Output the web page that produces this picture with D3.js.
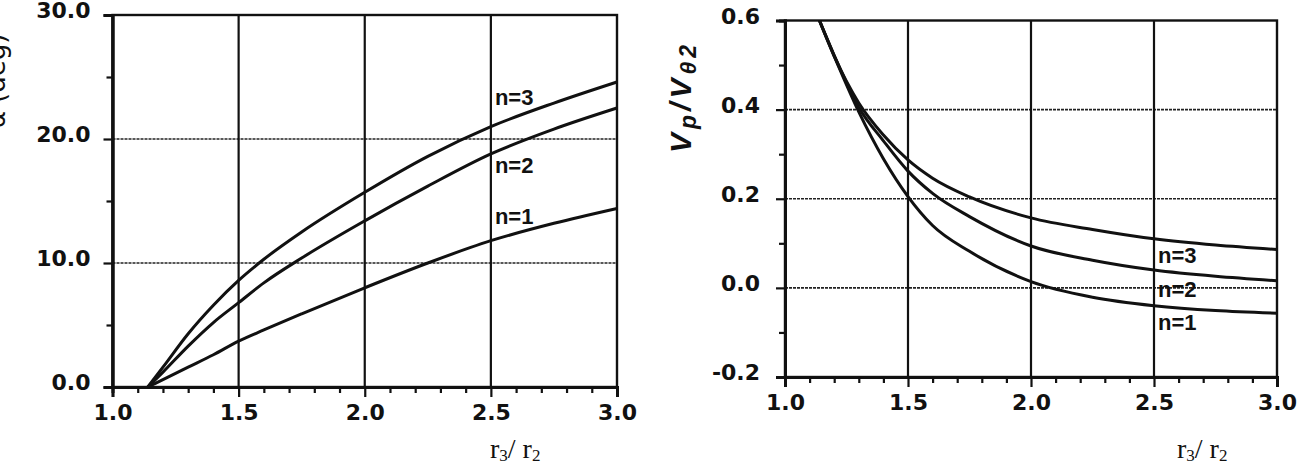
<!DOCTYPE html>
<html>
<head>
<meta charset="utf-8">
<script src="https://cdn.jsdelivr.net/npm/d3@7/dist/d3.min.js"></script>
<style>
body { margin: 0; background: #fff; }
svg { display: block; }
</style>
</head>
<body>
<svg id="chart" width="1300" height="468"></svg>
<script>
// radius ratio r3/r2 at which the curves were read
var ratios = [1.14, 1.2, 1.3, 1.4, 1.5, 1.6, 1.75, 2.0, 2.25, 2.5, 2.75, 3.0];
// left panel: alpha (deg)
var alphaN1 = [0, 0.6, 1.6, 2.6, 3.7, 4.6, 5.9, 8.0, 10.0, 11.8, 13.2, 14.4];
var alphaN2 = [0, 1.2, 3.3, 5.2, 6.8, 8.4, 10.4, 13.4, 16.2, 18.8, 20.8, 22.5];
var alphaN3 = [0, 1.6, 4.3, 6.6, 8.6, 10.3, 12.5, 15.7, 18.6, 21.0, 22.9, 24.6];
// right panel: Vp / Vtheta2
var velN1 = [0.60, 0.52, 0.395, 0.29, 0.205, 0.14, 0.082, 0.014, -0.021, -0.040, -0.051, -0.057];
var velN2 = [0.60, 0.522, 0.405, 0.33, 0.262, 0.212, 0.16, 0.094, 0.062, 0.040, 0.026, 0.016];
var velN3 = [0.60, 0.52, 0.415, 0.343, 0.287, 0.246, 0.204, 0.157, 0.131, 0.110, 0.096, 0.086];
var curveNames = ['n=1', 'n=2', 'n=3'];
var xTicks = [1.0, 1.5, 2.0, 2.5, 3.0];
var xMinorTicks = [1.1, 1.2, 1.3, 1.4, 1.6, 1.7, 1.8, 1.9, 2.1, 2.2, 2.3, 2.4, 2.6, 2.7, 2.8, 2.9];
var alphaTicks = [0, 10, 20, 30];
var alphaMinorTicks = [5, 15, 25];
var velTicks = [-0.2, 0.0, 0.2, 0.4, 0.6];
var velMinorTicks = [-0.1, 0.1, 0.3, 0.5];

var svg = d3.select('#chart');
var fmt = d3.format('.1f');
function tickText(d) {
	// plain hyphen like the original print
	return fmt(d).replace('\u2212', '-');
}

function drawPanel(p) {
	var x = d3.scaleLinear().domain([1, 3]).range([p.left, p.right]);
	var y = d3.scaleLinear().domain(p.yDomain).range([p.bottom, p.top]);
	var g = svg.append('g');

	// horizontal grid lines (dotty in the scan)
	g.selectAll('.hgrid').data(p.yTicks.slice(1, -1)).enter().append('line')
		.attr('x1', p.left).attr('x2', p.right)
		.attr('y1', function (d) { return y(d); })
		.attr('y2', function (d) { return y(d); })
		.attr('stroke', '#222').attr('stroke-width', 1.6)
		.attr('stroke-dasharray', '3,1');
	// vertical grid lines
	g.selectAll('.vgrid').data(xTicks.slice(1, -1)).enter().append('line')
		.attr('x1', function (d) { return x(d); })
		.attr('x2', function (d) { return x(d); })
		.attr('y1', p.top).attr('y2', p.bottom)
		.attr('stroke', '#111').attr('stroke-width', 2.2);
	// frame
	g.append('rect')
		.attr('x', p.left).attr('y', p.top)
		.attr('width', p.right - p.left).attr('height', p.bottom - p.top)
		.attr('fill', 'none').attr('stroke', '#111').attr('stroke-width', 2.4);

	// axes
	var xAxis = g.append('g').attr('transform', 'translate(0,' + p.bottom + ')')
		.call(d3.axisBottom(x).tickValues(xTicks).tickSize(10).tickFormat(tickText));
	g.append('g').attr('transform', 'translate(0,' + p.bottom + ')')
		.call(d3.axisBottom(x).tickValues(xMinorTicks).tickSize(6).tickFormat(''));
	var yAxis = g.append('g').attr('transform', 'translate(' + p.left + ',0)')
		.call(d3.axisLeft(y).tickValues(p.yTicks).tickSize(9).tickPadding(p.yPad).tickFormat(tickText));
	g.append('g').attr('transform', 'translate(' + p.left + ',0)')
		.call(d3.axisLeft(y).tickValues(p.yMinor).tickSize(6).tickFormat(''));
	g.selectAll('.domain').attr('stroke', '#111').attr('stroke-width', 3);
	g.selectAll('.tick line').attr('stroke', '#111').attr('stroke-width', 2.2);
	g.selectAll('.tick text')
		.attr('font-family', '"DejaVu Sans", sans-serif')
		.attr('font-weight', 'bold').attr('font-size', 22).attr('fill', '#111');
	xAxis.selectAll('.tick text').attr('y', 33).attr('dy', 0);
	yAxis.selectAll('.tick text').attr('dy', '0.12em');

	// curves
	var line = d3.line()
		.x(function (d) { return x(d[0]); })
		.y(function (d) { return y(d[1]); })
		.curve(d3.curveMonotoneX);
	var at = ratios.indexOf(2.5);
	for (var i = 0; i < p.series.length; i++) {
		var pts = [];
		for (var j = 0; j < ratios.length; j++) pts.push([ratios[j], p.series[i][j]]);
		g.append('path').datum(pts)
			.attr('d', line)
			.attr('fill', 'none').attr('stroke', '#111').attr('stroke-width', 3);
		// label beside the curve, just right of the 2.5 grid line
		g.append('text')
			.attr('x', x(2.5) + 4)
			.attr('y', y(p.series[i][at]) + p.labelShift[i])
			.attr('font-family', '"Liberation Sans", Arial, sans-serif')
			.attr('font-weight', 'bold').attr('font-size', 22).attr('fill', '#111')
			.text(curveNames[i]);
	}

	// x axis title r3/r2
	var xt = g.append('text')
		.attr('x', p.titleX).attr('y', 458)
		.attr('font-family', '"Liberation Serif", "Times New Roman", serif')
		.attr('font-size', 28).attr('fill', '#111');
	xt.append('tspan').text('r');
	xt.append('tspan').attr('font-size', 17).attr('dy', 3).text('3');
	xt.append('tspan').attr('dy', -3).text('/ r');
	xt.append('tspan').attr('font-size', 17).attr('dy', 3).text('2');
	return g;
}

drawPanel({
	left: 112.5, right: 617, top: 15, bottom: 387,
	yDomain: [0, 30], yTicks: alphaTicks, yMinor: alphaMinorTicks, yPad: 13,
	series: [alphaN1, alphaN2, alphaN3],
	labelShift: [-17, 19, -22],
	titleX: 490
});
drawPanel({
	left: 785, right: 1277, top: 20.5, bottom: 377,
	yDomain: [-0.2, 0.6], yTicks: velTicks, yMinor: velMinorTicks, yPad: 16,
	series: [velN1, velN2, velN3],
	labelShift: [24, 27, 24],
	titleX: 1177
});

// y axis titles (the left one runs into the page edge in the original)
svg.append('text')
	.attr('transform', 'translate(5,81) rotate(-90)')
	.attr('text-anchor', 'middle')
	.attr('font-family', '"DejaVu Sans", sans-serif')
	.attr('font-size', 26).attr('fill', '#111')
	.text('α (deg)');

var vt = svg.append('text')
	.attr('transform', 'translate(691,97) rotate(-90)')
	.attr('text-anchor', 'middle')
	.attr('font-family', '"Liberation Sans", Arial, sans-serif')
	.attr('font-style', 'italic').attr('font-weight', 'bold')
	.attr('font-size', 30).attr('letter-spacing', 4).attr('fill', '#111');
vt.append('tspan').text('V');
vt.append('tspan').attr('font-size', 23).attr('dy', 5).text('p');
vt.append('tspan').attr('dy', -5).text('/V');
vt.append('tspan').attr('font-size', 23).attr('dy', 5).text('θ2');
</script>
</body>
</html>
